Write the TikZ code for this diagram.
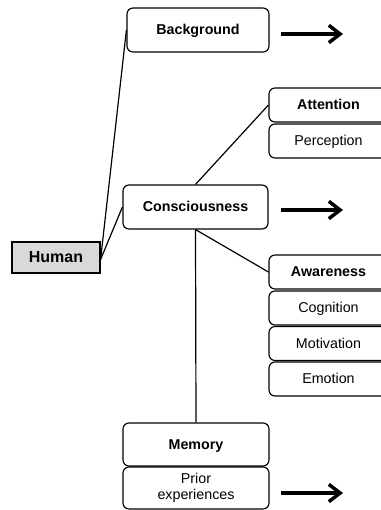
\documentclass[tikz,border=0pt]{standalone}
\usepackage{fontspec}
\setmainfont{Liberation Sans}
\usetikzlibrary{arrows.meta}
\begin{document}
\begin{tikzpicture}[x=0.75pt,y=-0.75pt,
  box/.style={draw,rounded corners=4.5pt,line width=0.85pt,inner sep=0pt,align=center,
    font=\fontsize{10.7}{12}\selectfont},
  one/.style={text height=0.72em,text depth=0pt},
  hd/.style={box,one,font=\fontsize{10.7}{12}\selectfont\bfseries},
  conn/.style={line width=0.9pt},
  bigarrow/.style={line width=2.6pt,-{Straight Barb[length=8.5pt,width=13pt]}}]
\useasboundingbox (0,0) rectangle (381,510);
\clip (0,0) rectangle (381,510);
\node[hd,minimum width={142*0.75pt},minimum height={44*0.75pt}] (bg) at (198,30) {Background};
\node[hd,minimum width={145*0.75pt},minimum height={44*0.75pt}] (con) at (195.5,207) {Consciousness};
\node[draw,line width=0.85pt,fill={rgb,255:red,217;green,217;blue,217},inner sep=0pt,one,
  font=\fontsize{12}{14}\selectfont\bfseries,
  minimum width={88*0.75pt},minimum height={31*0.75pt}] (hum) at (56,257.5) {Human};
\node[hd,minimum width={119*0.75pt},minimum height={34*0.75pt}] (att) at (328.5,105) {Attention};
\node[box,one,minimum width={119*0.75pt},minimum height={34*0.75pt}] (per) at (328.5,141) {Perception};
\node[hd,minimum width={119*0.75pt},minimum height={34*0.75pt}] (awa) at (328.5,272) {Awareness};
\node[box,one,minimum width={119*0.75pt},minimum height={34*0.75pt}] (cog) at (328.5,308) {Cognition};
\node[box,one,minimum width={119*0.75pt},minimum height={34*0.75pt}] (mot) at (328.5,343.5) {Motivation};
\node[box,one,minimum width={119*0.75pt},minimum height={34*0.75pt}] (emo) at (328.5,379) {Emotion};
\node[hd,minimum width={146*0.75pt},minimum height={43*0.75pt}] (mem) at (196,444.5) {Memory};
\node[box,minimum width={146*0.75pt},minimum height={42*0.75pt}] (pri) at (196,488) {Prior\\experiences};
\coordinate (a1s) at (281,34); \coordinate (a1e) at (343,34);
\coordinate (a2s) at (281,210); \coordinate (a2e) at (343,210);
\coordinate (a3s) at (281,493); \coordinate (a3e) at (343,493);
\draw[bigarrow] (a1s) -- (a1e);
\draw[bigarrow] (a2s) -- (a2e);
\draw[bigarrow] (a3s) -- (a3e);
\draw[conn] ([yshift=-1.5pt]hum.east) -- (bg.west);
\draw[conn] ([yshift=-1.5pt]hum.east) -- (con.west);
\draw[conn] (con.north) -- (att.west);
\draw[conn] (con.south) -- (awa.west);
\draw[conn] (con.south) -- (mem.north);
\end{tikzpicture}
\end{document}
